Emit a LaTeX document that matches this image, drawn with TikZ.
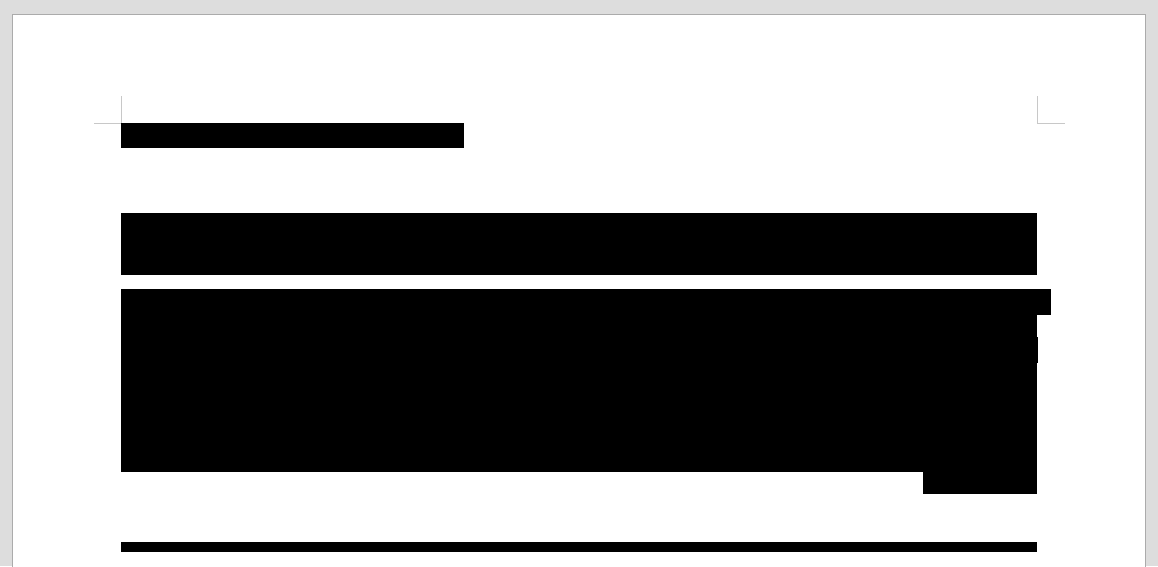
\documentclass[tikz,border=0pt]{standalone}
\definecolor{desk}{HTML}{DDDDDD}
\definecolor{pageedge}{HTML}{ABABAB}
\definecolor{cropmark}{HTML}{C8C8C8}
\tikzset{redact/.style={fill=black,draw=none}, crop/.style={draw=cropmark,line width=1pt}}
\begin{document}
\begin{tikzpicture}[x=1pt,y=-1pt]
\useasboundingbox (0,0) rectangle (1158,566);
\fill[desk] (0,0) rectangle (1158,566);
\filldraw[fill=white,draw=pageedge,line width=1.2pt] (12.5,14.5) -- (1145.5,14.5) -- (1145.5,570) -- (12.5,570) -- cycle;
% crop marks
\draw[crop] (121,96) -- (121,123.5) -- (94,123.5);
\draw[crop] (1037.5,96) -- (1037.5,123.5) -- (1065,123.5);
% redaction bars
\fill[redact] (121,123) rectangle (464,148);
\fill[redact] (121,213) rectangle (1037,275);
\fill[redact] (121,289) rectangle (1051,315);
\fill[redact] (121,315) rectangle (1037,472);
\fill[redact] (1037,337) rectangle (1038,363);
\fill[redact] (923,472) rectangle (1037,494);
\fill[redact] (121,542) rectangle (1037,552);
\end{tikzpicture}
\end{document}
